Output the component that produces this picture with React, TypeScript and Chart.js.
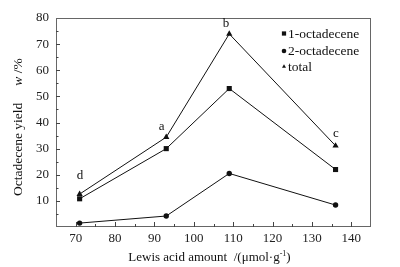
import React, { useEffect, useRef } from "react";
import { Chart, registerables } from "chart.js";

Chart.register(...registerables);

const xValues = [71, 93, 109, 136];
const octadecene1 = [10.8, 30.0, 53.0, 22.0];
const octadecene2 = [1.5, 4.2, 20.5, 8.4];
const total = [12.6, 34.4, 73.9, 31.1];

const seriesNames = ["1-octadecene", "2-octadecene", "total"];
const xTickValues = [70, 80, 90, 100, 110, 120, 130, 140];
const yTickValues = [10, 20, 30, 40, 50, 60, 70, 80];

const pointLabels = ["a", "b", "c", "d"];
const pointLabelX = [91.8, 108.2, 136.1, 71.1];
const pointLabelY = [38.4, 77.8, 35.6, 19.5];

const SERIF = "'Liberation Serif', 'Times New Roman', serif";

function drawMarker(ctx: CanvasRenderingContext2D, style: string, x: number, y: number, r: number) {
  ctx.beginPath();
  if (style === "rect") {
    const s = r * Math.SQRT1_2;
    ctx.rect(x - s, y - s, 2 * s, 2 * s);
  } else if (style === "circle") {
    ctx.arc(x, y, r, 0, Math.PI * 2);
  } else {
    const h = r * 1.5;
    const w = r * Math.sqrt(3);
    ctx.moveTo(x, y - r);
    ctx.lineTo(x + w / 2, y - r + h);
    ctx.lineTo(x - w / 2, y - r + h);
    ctx.closePath();
  }
  ctx.fill();
}

const decorPlugin = {
  id: "decor",
  afterDraw(chart: any) {
    const ctx: CanvasRenderingContext2D = chart.ctx;
    const { left, right, top, bottom } = chart.chartArea;
    const xs = chart.scales.x;
    const ys = chart.scales.y;
    ctx.save();
    // frame
    ctx.strokeStyle = "#666";
    ctx.lineWidth = 1;
    ctx.strokeRect(left + 0.5, top + 0.5, right - left - 1, bottom - top - 1);
    // ticks
    ctx.strokeStyle = "#444";
    ctx.beginPath();
    for (let v = 5; v < 80; v += 5) {
      const py = Math.round(ys.getPixelForValue(v)) + 0.5;
      const len = v % 10 === 0 ? 4 : 2.5;
      ctx.moveTo(left, py);
      ctx.lineTo(left + len, py);
    }
    for (let v = 70; v < 145; v += 5) {
      const px = Math.round(xs.getPixelForValue(v)) + 0.5;
      const len = v % 10 === 0 ? 5 : 3;
      ctx.moveTo(px, bottom);
      ctx.lineTo(px, bottom - len);
    }
    ctx.stroke();

    // point labels
    ctx.fillStyle = "#111";
    ctx.font = `13px ${SERIF}`;
    ctx.textAlign = "center";
    ctx.textBaseline = "middle";
    pointLabels.forEach((t, i) => {
      ctx.fillText(t, xs.getPixelForValue(pointLabelX[i]), ys.getPixelForValue(pointLabelY[i]));
    });

    // legend
    const styles = ["rect", "circle", "triangle"];
    const rowY = [33.5, 51, 66.5];
    ctx.textAlign = "left";
    ctx.font = `13.5px ${SERIF}`;
    seriesNames.forEach((name, i) => {
      ctx.fillStyle = "#111";
      drawMarker(ctx, styles[i], 284, rowY[i], styles[i] === "rect" ? 3 : 2.3);
      ctx.fillText(name, 288, rowY[i] + 0.5);
    });

    // x title
    ctx.textBaseline = "alphabetic";
    const p1 = "Lewis acid amount  /(\u03bcmol\u00b7g";
    const sup = "-1";
    const p3 = ")";
    ctx.font = `13px ${SERIF}`;
    const w1 = ctx.measureText(p1).width;
    const w3 = ctx.measureText(p3).width;
    ctx.font = `8px ${SERIF}`;
    const w2 = ctx.measureText(sup).width;
    const totalW = w1 + w2 + w3;
    let sx = 209.5 - totalW / 2;
    const by = 261;
    ctx.font = `13px ${SERIF}`;
    ctx.fillText(p1, sx, by);
    sx += w1;
    ctx.font = `8px ${SERIF}`;
    ctx.fillText(sup, sx, by - 5);
    sx += w2;
    ctx.font = `13px ${SERIF}`;
    ctx.fillText(p3, sx, by);

    // y title (rotated)
    ctx.save();
    ctx.translate(22, 196);
    ctx.rotate(-Math.PI / 2);
    ctx.font = `13.5px ${SERIF}`;
    ctx.fillText("Octadecene yield", 0, 0);
    const wy = ctx.measureText("Octadecene yield").width;
    let tx = wy + 17;
    ctx.font = `italic 13.5px ${SERIF}`;
    ctx.fillText("w", tx, 0);
    tx += ctx.measureText("w").width;
    ctx.font = `13.5px ${SERIF}`;
    ctx.fillText(" /%", tx, 0);
    ctx.restore();

    ctx.restore();
  },
};

function makePoints(vals: number[]) {
  return vals.map((y, i) => ({ x: xValues[i], y }));
}

export default function App() {
  const ref = useRef<HTMLCanvasElement | null>(null);
  useEffect(() => {
    if (!ref.current) return;
    const common = {
      borderColor: "#111",
      backgroundColor: "#111",
      borderWidth: 1,
      pointBorderWidth: 0,
      tension: 0,
      fill: false,
    };
    const chart = new Chart(ref.current, {
      type: "line",
      data: {
        datasets: [
          { ...common, label: seriesNames[0], data: makePoints(octadecene1), pointStyle: "rect", pointRadius: 3.6 },
          { ...common, label: seriesNames[1], data: makePoints(octadecene2), pointStyle: "circle", pointRadius: 2.7 },
          { ...common, label: seriesNames[2], data: makePoints(total), pointStyle: "triangle", pointRadius: 3.6 },
        ],
      },
      options: {
        responsive: false,
        animation: false,
        devicePixelRatio: 1,
        layout: { padding: { top: 18, right: 29, left: 0, bottom: 0 } },
        plugins: { legend: { display: false }, tooltip: { enabled: false }, title: { display: false } },
        scales: {
          x: {
            type: "linear",
            min: 65,
            max: 145,
            grid: { display: false, drawTicks: false },
            border: { display: false },
            afterBuildTicks: (s: any) => {
              s.ticks = xTickValues.map((v) => ({ value: v }));
            },
            afterFit: (s: any) => {
              s.height = 40;
            },
            ticks: { color: "#222", font: { family: SERIF, size: 13 }, padding: 4, maxRotation: 0, autoSkip: false },
          },
          y: {
            type: "linear",
            min: 0,
            max: 80,
            grid: { display: false, drawTicks: false },
            border: { display: false },
            afterBuildTicks: (s: any) => {
              s.ticks = yTickValues.map((v) => ({ value: v }));
            },
            afterFit: (s: any) => {
              s.width = 56;
            },
            ticks: { color: "#222", font: { family: SERIF, size: 13 }, padding: 7, autoSkip: false },
          },
        },
      },
      plugins: [decorPlugin],
    } as any);
    return () => chart.destroy();
  }, []);
  return (
    <div style={{ position: "fixed", left: 0, top: 0, width: 400, height: 267, background: "#fff" }}>
      <canvas ref={ref} width={400} height={267} style={{ width: 400, height: 267, display: "block" }} />
    </div>
  );
}
